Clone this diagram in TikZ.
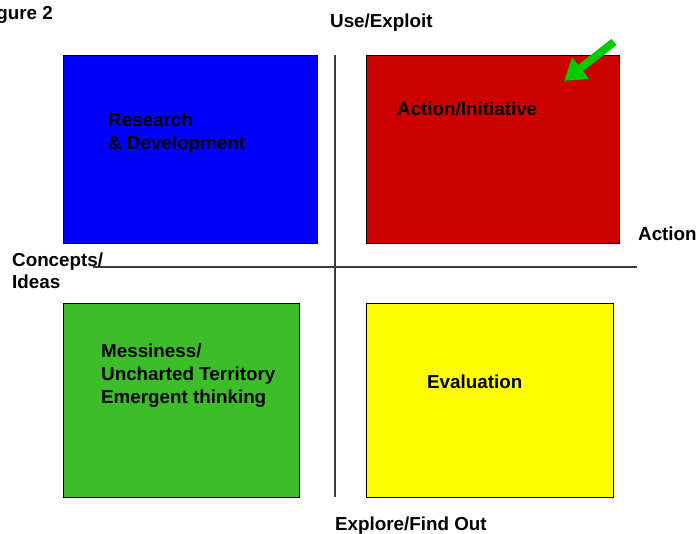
\documentclass[tikz,border=0pt]{standalone}
\usepackage{fontspec}
\setmainfont{Liberation Sans}
\usetikzlibrary{arrows.meta}
\definecolor{rdblue}{RGB}{0,0,255}
\definecolor{actred}{RGB}{204,0,0}
\definecolor{messgreen}{RGB}{60,190,40}
\definecolor{evalyellow}{RGB}{255,255,0}
\definecolor{pointgreen}{RGB}{0,204,0}
\definecolor{axisgray}{RGB}{60,60,60}
\begin{document}
\begin{tikzpicture}[x=1pt,y=-1pt,
  quad/.style={draw=black,line width=0.8pt,inner sep=0pt,anchor=north west},
  lbl/.style={font=\fontsize{18.8}{23}\selectfont\bfseries,inner sep=0pt,anchor=base west},
  axis/.style={draw=axisgray,line width=1.4pt}]
\useasboundingbox (0,0) rectangle (699,534);
% four quadrants
\node[quad,fill=rdblue,minimum width=254pt,minimum height=188pt] (rd) at (63,55) {};
\node[quad,fill=actred,minimum width=253pt,minimum height=188pt] (act) at (366,55) {};
\node[quad,fill=messgreen,minimum width=236pt,minimum height=194pt] (mess) at (63,303) {};
\node[quad,fill=evalyellow,minimum width=247pt,minimum height=194pt] (eval) at (366,303) {};
% axes
\coordinate (vtop) at (335,55);
\coordinate (vbot) at (335,497);
\coordinate (hleft) at (93,267);
\coordinate (hright) at (637,267);
\draw[axis] (vtop) -- (vbot);
\draw[axis] (hleft) -- (hright);
% pointer arrow
\coordinate (ptail) at (614,42);
\coordinate (ptip) at (564,81);
\draw[pointgreen,line width=8pt,-{Triangle[length=21pt,width=26pt]}] (ptail) -- (ptip);
% axis labels
\node[lbl,anchor=base east] (fig) at (53,20) {Figure 2};
\node[lbl] (use) at (330,28) {Use/Exploit};
\node[lbl] (explore) at (335,530) {Explore/Find Out};
\node[lbl] (action) at (638,241) {Action};
\node[lbl] (concepts) at (12,267) {Concepts/};
\node[lbl] (ideas) at (12,289) {Ideas};
% quadrant labels
\node[lbl] (rdA) at (108,127) {Research};
\node[lbl] (rdB) at (108,150) {\& Development};
\node[lbl] (actl) at (397,116) {Action/Initiative};
\node[lbl] (messA) at (101,358) {Messiness/};
\node[lbl] (messB) at (101,381) {Uncharted Territory};
\node[lbl] (messC) at (101,404) {Emergent thinking};
\node[lbl] (evall) at (427,389) {Evaluation};
\end{tikzpicture}
\end{document}
